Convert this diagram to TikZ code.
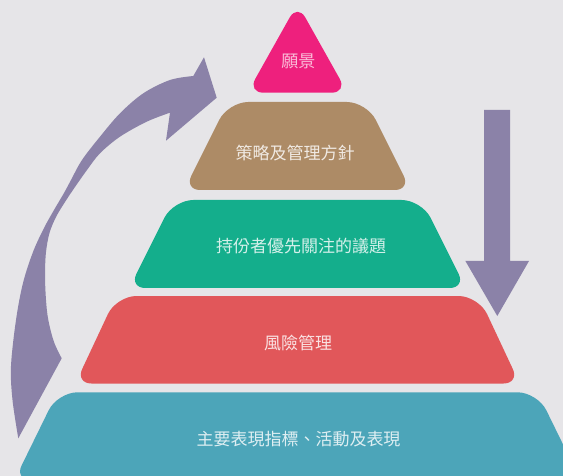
\documentclass[tikz,border=0pt]{standalone}
\usepackage{fontspec}
\newfontfamily\cjk{Noto Sans CJK TC}
\usetikzlibrary{calc}
\definecolor{bgc}{HTML}{E6E5E8}
\definecolor{arrowc}{HTML}{8B82A8}
\definecolor{pinkc}{HTML}{EE207D}
\definecolor{brownc}{HTML}{AD8B66}
\definecolor{greenc}{HTML}{14AE8C}
\definecolor{redc}{HTML}{E1575A}
\definecolor{tealc}{HTML}{4CA5B9}
% rounded corner at #2 between #1 and #3 with tangent length #4
\newcommand\rc[4]{-- ($(#2)!#4!(#1)$) .. controls ($(#2)!0.45*#4!(#1)$) and ($(#2)!0.45*#4!(#3)$) .. ($(#2)!#4!(#3)$)}
\newcommand\trapez[6]{%
  \coordinate (#1-tl) at ({297.5-#3},#2);
  \coordinate (#1-tr) at ({297.5+#3},#2);
  \coordinate (#1-br) at ({297.5+#5},#4);
  \coordinate (#1-bl) at ({297.5-#5},#4);
  \fill[#6] ($(#1-tl)!0.5!(#1-tr)$) \rc{#1-tl}{#1-tr}{#1-br}{20pt} \rc{#1-tr}{#1-br}{#1-bl}{16pt}
     \rc{#1-br}{#1-bl}{#1-tl}{16pt} \rc{#1-bl}{#1-tl}{#1-tr}{20pt} -- cycle;
}
\begin{document}
\begin{tikzpicture}[x=1pt,y=-1pt,
  lbl/.style={text=white, text opacity=0.82, font=\cjk\fontsize{17pt}{20pt}\selectfont, inner sep=0pt}]
\fill[bgc] (0,0) rectangle (563,476);
\useasboundingbox (0,0) rectangle (563,476);
\clip (0,0) rectangle (563,476);

% pink triangle
\coordinate (pa) at (297.5,3.6);
\coordinate (pb) at (347.5,92.7);
\coordinate (pc) at (247.5,92.7);
\fill[pinkc] ($(pc)!0.5!(pb)$) \rc{pc}{pb}{pa}{16pt} \rc{pb}{pa}{pc}{16pt} \rc{pa}{pc}{pb}{16pt} -- cycle;

% trapezoids
\trapez{br}{102}{69.3}{190}{113.3}{brownc}
\trapez{gr}{200}{124.2}{288}{168.2}{greenc}
\trapez{rd}{296}{181.1}{383.5}{222.1}{redc}
\trapez{tl}{392.3}{240}{480}{283}{tealc}

% labels
\node[lbl, text opacity=0.7] (t1) at (298.3,61.7) {願景};
\node[lbl] (t2) at (295,153.5) {策略及管理方針};
\node[lbl] (t3) at (301,246) {持份者優先關注的議題};
\node[lbl] (t4) at (298,342.5) {風險管理};
\node[lbl] (t5) at (298.5,439) {主要表現指標、活動及表現};

% right down arrow
\fill[arrowc] (484,110) -- (510,110) -- (510,261) -- (529,261) -- (497.3,316)
   -- (465.4,261) -- (484,261) -- cycle;

% left curved arrow
\fill[arrowc] plot[smooth,tension=0.55] coordinates {(18.3,438.3) (12.5,400) (11,366) (16,320) (23,283) (33,252) (44,228) (54,210) (64,193) (71,180) (82,160) (100,136.7) (120,113.3) (143.3,93.3) (170,80) (193.3,76)}
  -- (204,57.3) -- (216.7,97.7) -- (166,140.7)
  -- plot[smooth,tension=0.55] coordinates {(170,112.7) (146.7,121.7) (120,136.7) (100,153.3) (87,170) (75,187) (65,202) (56,217) (49.5,233) (46,252) (45,275) (46,300) (48.3,320) (54,342) (61.7,358.3)}
  -- cycle;
\end{tikzpicture}
\end{document}
